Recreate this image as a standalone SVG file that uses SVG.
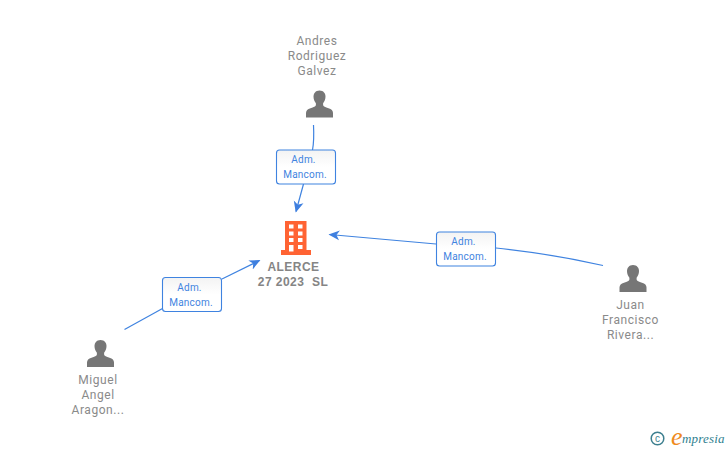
<svg xmlns="http://www.w3.org/2000/svg" width="728" height="450" viewBox="0 0 728 450">
<defs>
<linearGradient id="lb" x1="0" y1="0" x2="0" y2="1"><stop offset="0" stop-color="#f3f3f3"/><stop offset="0.5" stop-color="#ffffff"/></linearGradient>
<path id="person" d="M0,-13.500 C-4,-13.500 -6,-10.500 -6,-7.500 C-6,-4.500 -5,-2.500 -3.600,-0.800 L-3.600,1 C-3.600,2.500 -6,3 -9,4.200 C-12,5.300 -13.500,6.500 -13.500,9 L-13.500,13.500 L13.500,13.500 L13.500,9 C13.500,6.500 12,5.300 9,4.200 C6,3 3.600,2.500 3.600,1 L3.600,-0.800 C5,-2.500 6,-4.500 6,-7.500 C6,-10.500 4,-13.500 0,-13.500 Z"/>
<marker id="arrow" markerUnits="userSpaceOnUse" markerWidth="12" markerHeight="12" refX="10" refY="5" orient="auto" viewBox="0 0 12 10"><path d="M0,0 L11,5 L0,10 L3,5 Z" fill="#3e7fdf"/></marker>
</defs>
<style>
.n{font-family:Roboto,"Liberation Sans",sans-serif;font-size:12px;fill:#8a8a8a;text-anchor:middle;letter-spacing:0.55px}
.b{font-family:"Liberation Sans",Arial,sans-serif;font-size:12px;font-weight:700;fill:#858585;text-anchor:middle;letter-spacing:0.45px}
.l{font-family:Roboto,"Liberation Sans",sans-serif;font-size:10px;fill:#3f83e0;text-anchor:middle;letter-spacing:0.2px}
.c{fill:none;stroke:#3f83e0;stroke-width:1.2}
.box{fill:url(#lb);stroke:#3f83e0;stroke-width:1.1}
.p{fill:#767676}
</style>
<g id="connectors">
<path class="c" d="M313.500,125 C314,135 314,142 312.500,150"/>
<path class="c" d="M303.500,184 L296,211.500" marker-end="url(#arrow)"/>
<path class="c" d="M436,244 L329.500,234.500" marker-end="url(#arrow)"/>
<path class="c" d="M603,265.500 C570,258 535,252 496,248"/>
<path class="c" d="M124.500,329.500 L162.500,308.500"/>
<path class="c" d="M222,279 L259.500,260.500" marker-end="url(#arrow)"/>
</g>
<g id="node-andres">
<text class="n" x="317" y="45">Andres</text><text class="n" x="317" y="60">Rodriguez</text><text class="n" x="317" y="75">Galvez</text>
<use href="#person" class="p" x="319.500" y="104"/>
</g>
<g id="node-alerce">
<path fill="#ff6333" d="M285,221 H306.500 V250 H311 V255 H281 V250 H285 Z"/>
<g fill="#ffffff">
<rect x="289" y="224.500" width="4.500" height="4"/><rect x="298" y="224.500" width="4.500" height="4"/>
<rect x="289" y="231.500" width="4.500" height="4"/><rect x="298" y="231.500" width="4.500" height="4"/>
<rect x="289" y="238" width="4.500" height="4"/><rect x="298" y="238" width="4.500" height="4"/>
<rect x="289" y="245" width="4.500" height="6.500"/><rect x="298" y="245" width="4.500" height="4"/>
</g>
<text class="b" x="293.500" y="271">ALERCE</text><text class="b" x="293" y="286" xml:space="preserve">27 2023  SL</text>
</g>
<g id="node-juan">
<use href="#person" class="p" x="633" y="278.500"/>
<text class="n" x="630.500" y="309">Juan</text><text class="n" x="630.500" y="324">Francisco</text><text class="n" x="630.500" y="339">Rivera...</text>
</g>
<g id="node-miguel">
<use href="#person" class="p" x="100.500" y="353.500"/>
<text class="n" x="98" y="384">Miguel</text><text class="n" x="98" y="399">Angel</text><text class="n" x="98" y="414">Aragon...</text>
</g>
<g id="label-top"><rect class="box" x="276.500" y="150" width="59" height="34" rx="3"/><text class="l" x="303.500" y="163">Adm.</text><text class="l" x="305" y="178">Mancom.</text></g>
<g id="label-right"><rect class="box" x="436.500" y="232" width="59" height="34" rx="3"/><text class="l" x="463.500" y="245">Adm.</text><text class="l" x="465" y="260">Mancom.</text></g>
<g id="label-left"><rect class="box" x="162.500" y="277.500" width="59" height="34" rx="3"/><text class="l" x="189.500" y="290.500">Adm.</text><text class="l" x="191" y="305.500">Mancom.</text></g>
<g id="logo">
<circle cx="657.500" cy="438.500" r="6.300" fill="none" stroke="#3d7f8f" stroke-width="1.500"/>
<text x="657.500" y="442" font-family="'Liberation Sans',sans-serif" font-size="10" fill="#3d7f8f" text-anchor="middle">c</text>
<text x="671" y="445" font-family="'Liberation Serif',serif" font-style="italic" font-size="26" fill="#ef8a1d">e</text>
<text x="682" y="443" font-family="'Liberation Serif',serif" font-style="italic" font-size="13" fill="#2f7f8f" letter-spacing="0.2">mpresia</text>
</g>
</svg>
